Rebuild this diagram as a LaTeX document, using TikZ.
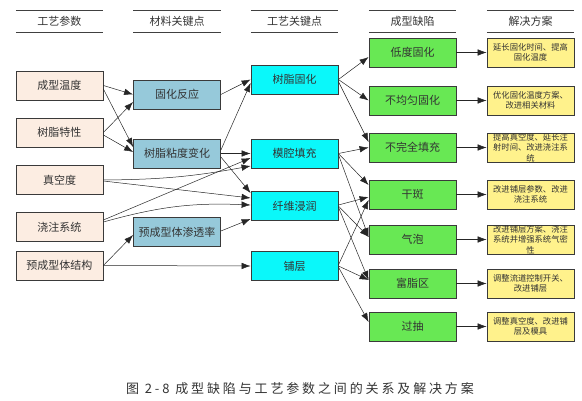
\documentclass[tikz,border=0pt]{standalone}
\usepackage{fontspec}
\setmainfont{Noto Sans CJK SC}
\newfontfamily\capfont[LetterSpace=22]{Noto Sans CJK SC}
\usetikzlibrary{calc,arrows.meta}
\definecolor{paramfill}{RGB}{252,237,226}
\definecolor{matfill}{RGB}{150,201,218}
\definecolor{procfill}{RGB}{10,248,250}
\definecolor{defectfill}{RGB}{104,232,84}
\definecolor{remedyfill}{RGB}{255,242,140}
\definecolor{boxline}{RGB}{58,58,58}

\begin{document}
\begin{tikzpicture}[x=1pt,y=-1pt]
  \tikzset{every node/.style={inner sep=0pt},font=\fontsize{11}{13}\selectfont}
  \tikzstyle{box}=[draw=boxline,line width=0.8pt,minimum width=87pt,minimum height=29pt,text=black!80]
  \tikzstyle{param}=[box,fill=paramfill]
  \tikzstyle{material}=[box,fill=matfill]
  \tikzstyle{process}=[box,fill=procfill]
  \tikzstyle{defect}=[box,fill=defectfill]
  \tikzstyle{remedy}=[box,fill=remedyfill,align=center,font=\fontsize{8.3}{10.5}\selectfont]
  \tikzstyle{hdr}=[minimum width=87pt,minimum height=21pt,text=black!80]
  \tikzstyle{hdrline}=[line width=0.8pt,black!75]
  \tikzstyle{edge}=[->,>={Latex[length=9pt,width=6.5pt]},line width=0.5pt,black!85]

  \def\xa{59.5}
  \def\xb{177}
  \def\xc{294.5}
  \def\xd{412.5}
  \def\xe{530.5}

  \useasboundingbox (0,0) rectangle (582,401);

  % column headers
  \node[hdr] (h1) at (\xa,21.5) {工艺参数};
  \node[hdr] (h2) at (\xb,21.5) {材料关键点};
  \node[hdr] (h3) at (\xc,21.5) {工艺关键点};
  \node[hdr] (h4) at (\xd,21.5) {成型缺陷};
  \node[hdr] (h5) at (\xe,21.5) {解决方案};
  \foreach \h in {h1,h2,h3,h4,h5}
    \draw[hdrline] (\h.north west) -- (\h.north east) (\h.south west) -- (\h.south east);

  % process parameters
  \node[param] (temp)  at (\xa,85.5)  {成型温度};
  \node[param] (resin) at (\xa,132.5) {树脂特性};
  \node[param] (vac)   at (\xa,180)   {真空度};
  \node[param] (gate)  at (\xa,227)   {浇注系统};
  \node[param] (pre)   at (\xa,265.5) {预成型体结构};

  % material key points
  \node[material] (curer) at (\xb,94.5)  {固化反应};
  \node[material] (visc)  at (\xb,153.5) {树脂粘度变化};
  \node[material] (perm)  at (\xb,232)   {预成型体渗透率};

  % process key points
  \node[process] (rcure) at (\xc,79.5)  {树脂固化};
  \node[process] (fill)  at (\xc,153.5) {模腔填充};
  \node[process] (wet)   at (\xc,206)   {纤维浸润};
  \node[process] (lay)   at (\xc,266)   {铺层};

  % defects
  \node[defect] (d1) at (\xd,52.5)  {低度固化};
  \node[defect] (d2) at (\xd,100.5) {不均匀固化};
  \node[defect] (d3) at (\xd,147.5) {不完全填充};
  \node[defect] (d4) at (\xd,194.5) {干斑};
  \node[defect] (d5) at (\xd,239.5) {气泡};
  \node[defect] (d6) at (\xd,283.5) {富脂区};
  \node[defect] (d7) at (\xd,326.5) {过抽};

  % remedies
  \node[remedy] (s1) at (\xe,52.5)  {延长固化时间、提高\\固化温度};
  \node[remedy] (s2) at (\xe,100.5) {优化固化温度方案、\\改进相关材料};
  \node[remedy] (s3) at (\xe,147.5) {提高真空度、延长注\\射时间、改进浇注系\\统};
  \node[remedy] (s4) at (\xe,194.5) {改进铺层参数、改进\\浇注系统};
  \node[remedy] (s5) at (\xe,239.5) {改进铺层方案、浇注\\系统并增强系统气密\\性};
  \node[remedy] (s6) at (\xe,283.5) {调整流道控制开关、\\改进铺层};
  \node[remedy] (s7) at (\xe,326.5) {调整真空度、改进铺\\层及模具};

  % parameters -> material key points
  \draw[edge] (temp.east) -- (curer.west);
  \draw[edge] ($(temp.east)+(0,3.5)$) -- ($(visc.west)+(0,-6.5)$);
  \draw[edge] (resin.east) -- ($(curer.west)+(0,7.5)$);
  \draw[edge] ($(resin.east)+(0,2.5)$) -- ($(visc.west)+(0,-1.5)$);
  \draw[edge] (pre.east) -- ($(perm.west)+(0,3)$);

  % -> process key points
  \draw[edge] (curer.east) -- (rcure.west);
  \draw[edge] ($(visc.east)+(0,-3.5)$) -- ($(rcure.west)+(0,3.5)$);
  \draw[edge] (visc.east) -- (fill.west);
  \draw[edge] ($(visc.east)+(0,3.5)$) -- ($(wet.west)+(0,-13)$);
  \draw[edge] (vac.east) to[bend right=5] ($(fill.west)+(0,12.5)$);
  \draw[edge] ($(vac.east)+(0,1)$) -- ($(wet.west)+(0,-8)$);
  \draw[edge] ($(gate.east)+(0,-7)$) -- ($(fill.west)+(0,4.5)$);
  \draw[edge] ($(gate.east)+(0,-5)$) to[bend left=9] ($(wet.west)+(0,-1)$);
  \draw[edge] ($(perm.east)+(0,-1)$) -- ($(wet.west)+(0,13)$);
  \draw[edge] (pre.east) -- (lay.west);

  % process key points -> defects
  \draw[edge] (rcure.east) -- ($(d1.west)+(0,4.5)$);
  \draw[edge] (rcure.east) -- (d2.west);
  \draw[edge] ($(rcure.east)+(0,2)$) -- ($(d3.west)+(0,-5.5)$);
  \draw[edge] (fill.east) -- (d3.west);
  \draw[edge] (fill.east) -- ($(d4.west)+(0,-9.5)$);
  \draw[edge] ($(fill.east)+(0,1)$) -- ($(d5.west)+(0,-2.5)$);
  \draw[edge] ($(wet.east)+(0,-1)$) -- ($(d4.west)+(0,2.5)$);
  \draw[edge] (wet.east) -- ($(d5.west)+(0,-2.5)$);
  \draw[edge] ($(wet.east)+(0,1)$) -- ($(d6.west)+(0,-3.5)$);
  \draw[edge] ($(lay.east)+(0,-1)$) -- ($(d4.west)+(0,5.5)$);
  \draw[edge] (lay.east) -- ($(d6.west)+(0,-3.5)$);
  \draw[edge] ($(lay.east)+(0,1)$) -- ($(d7.west)+(0,-4.5)$);

  % defects -> remedies
  \foreach \i in {1,...,7}
    \draw[edge] (d\i.east) -- (s\i.west);

  % caption
  \node[font=\capfont\fontsize{13}{15}\selectfont,text=black!80] (cap) at (300,389)
    {图 2-8 成型缺陷与工艺参数之间的关系及解决方案};
\end{tikzpicture}
\end{document}
